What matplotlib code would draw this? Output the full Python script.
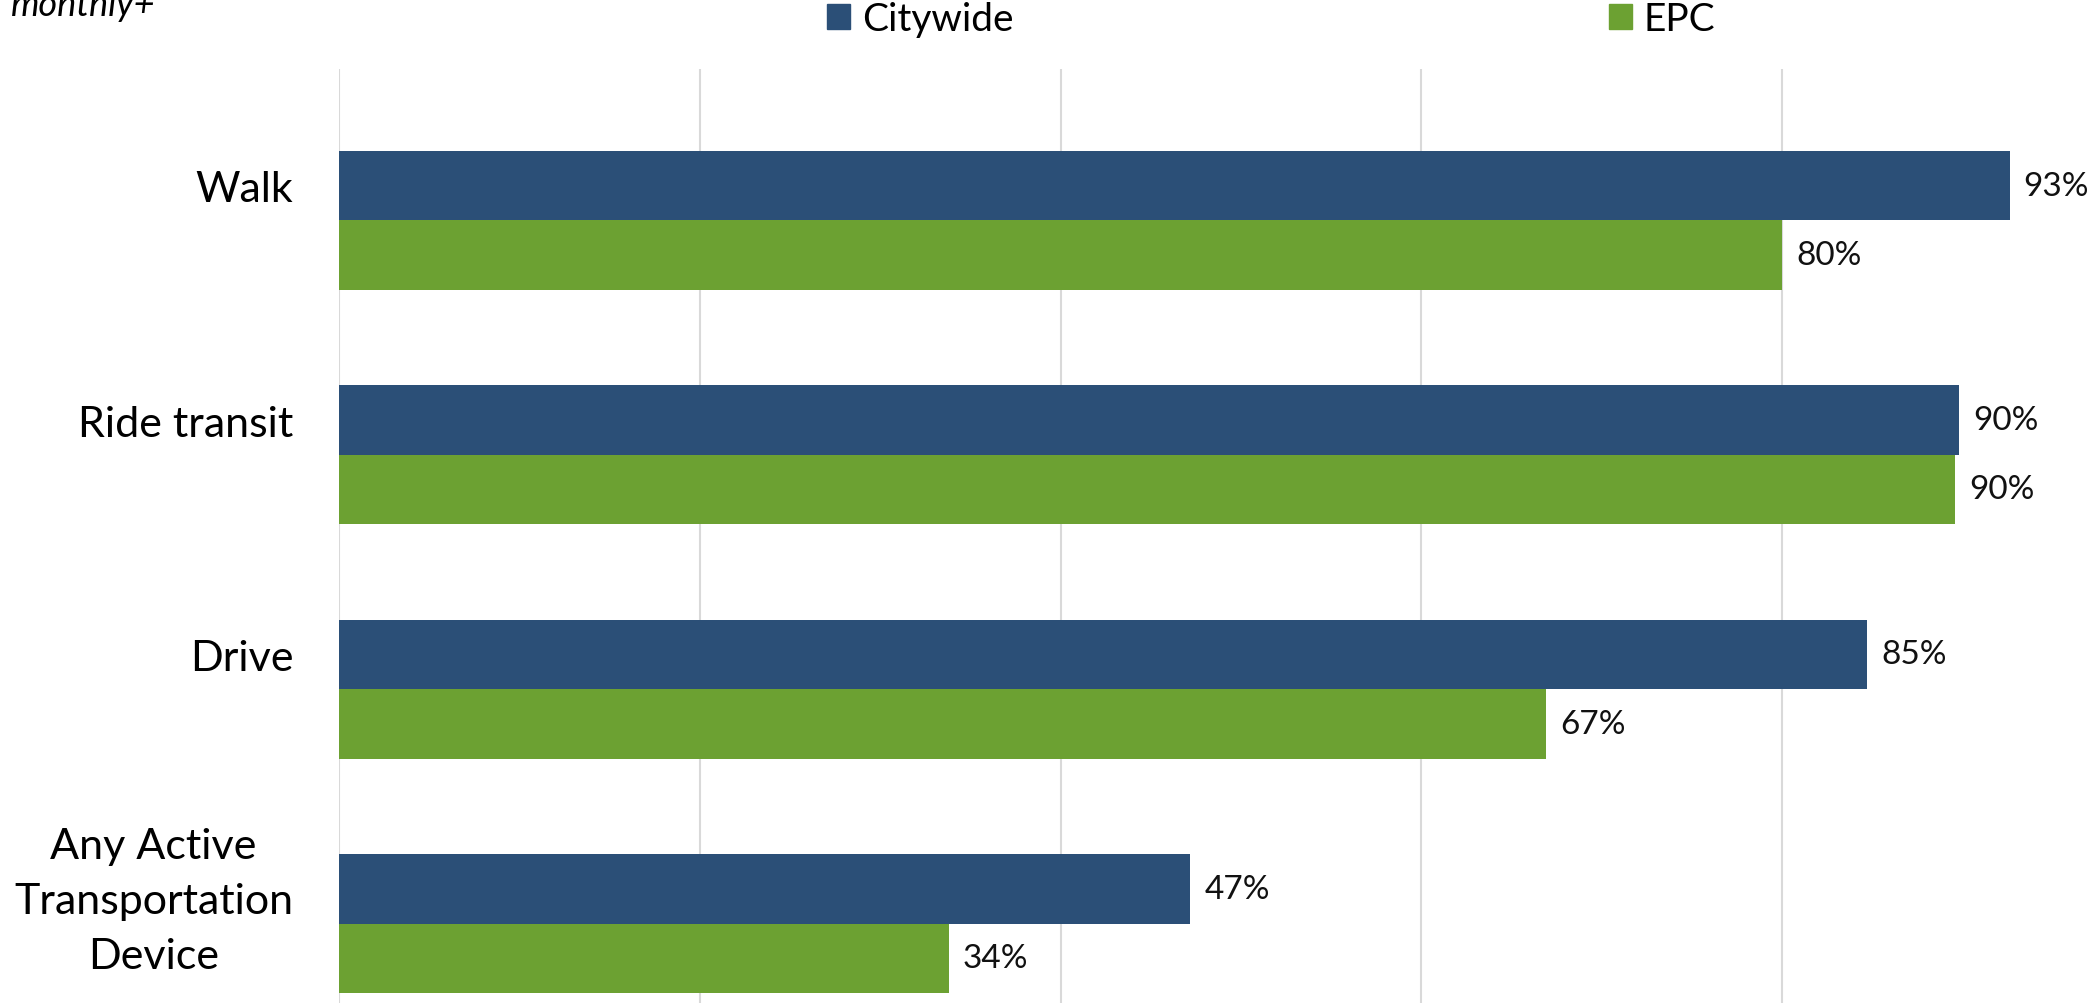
import matplotlib
matplotlib.use('Agg')
import matplotlib.pyplot as plt
from matplotlib.patches import Patch
import numpy as np

categories = ['Walk', 'Ride transit', 'Drive', 'Any Active\nTransportation\nDevice']
citywide = [92.6, 89.8, 84.7, 47.2]
epc = [80.0, 89.6, 66.9, 33.8]
series_names = ['Citywide', 'EPC']
colors = ['#2B4F77', '#6CA132']

plt.rcParams['font.family'] = ['Lato', 'DejaVu Sans']

W, H = 2092, 1004
fig = plt.figure(figsize=(W / 100, H / 100), dpi=100)
ax = fig.add_axes([339 / W, 0, 1 - 339 / W, (H - 70) / H])

y = np.arange(len(categories))
bh = 0.296
ax.barh(y - bh / 2, citywide, height=bh, color=colors[0], zorder=2)
ax.barh(y + bh / 2, epc, height=bh, color=colors[1], zorder=2)

for yi, v in zip(y - bh / 2, citywide):
    ax.annotate(f'{v:.0f}%', (v, yi), xytext=(10, 0), textcoords='offset points',
                va='center', ha='left', fontsize=24, color='#111111')
for yi, v in zip(y + bh / 2, epc):
    ax.annotate(f'{v:.0f}%', (v, yi), xytext=(10, 0), textcoords='offset points',
                va='center', ha='left', fontsize=24, color='#111111')

ax.set_xlim(0, (W - 339) / 18.04)
ax.set_ylim(3.339, -0.646)
ax.set_xticks([0, 20, 40, 60, 80])
ax.set_xticklabels([])
ax.xaxis.grid(True, color='#D9D9D9', linewidth=1.5, zorder=0)
ax.set_yticks(y - bh / 2)
ax.set_yticklabels(categories, fontsize=31, ha='right', multialignment='center',
                   linespacing=1.55)
ax.tick_params(axis='y', length=0, pad=33)
ax.tick_params(axis='x', length=0)
for s in ax.spines.values():
    s.set_visible(False)

handles = [Patch(color=c, label=n) for c, n in zip(colors, series_names)]
fig.legend(handles=handles, loc='center left', bbox_to_anchor=(827 / W, 1 - 20 / H),
           ncol=2, frameon=False, fontsize=28, handlelength=0.6, handleheight=0.6,
           handletextpad=0.3, columnspacing=15.3, borderaxespad=0, borderpad=0)

fig.text(11 / W, 1 - 16 / H, 'monthly+', fontsize=26, style='italic',
         ha='left', va='baseline')

fig.savefig('out.png', dpi=100)
